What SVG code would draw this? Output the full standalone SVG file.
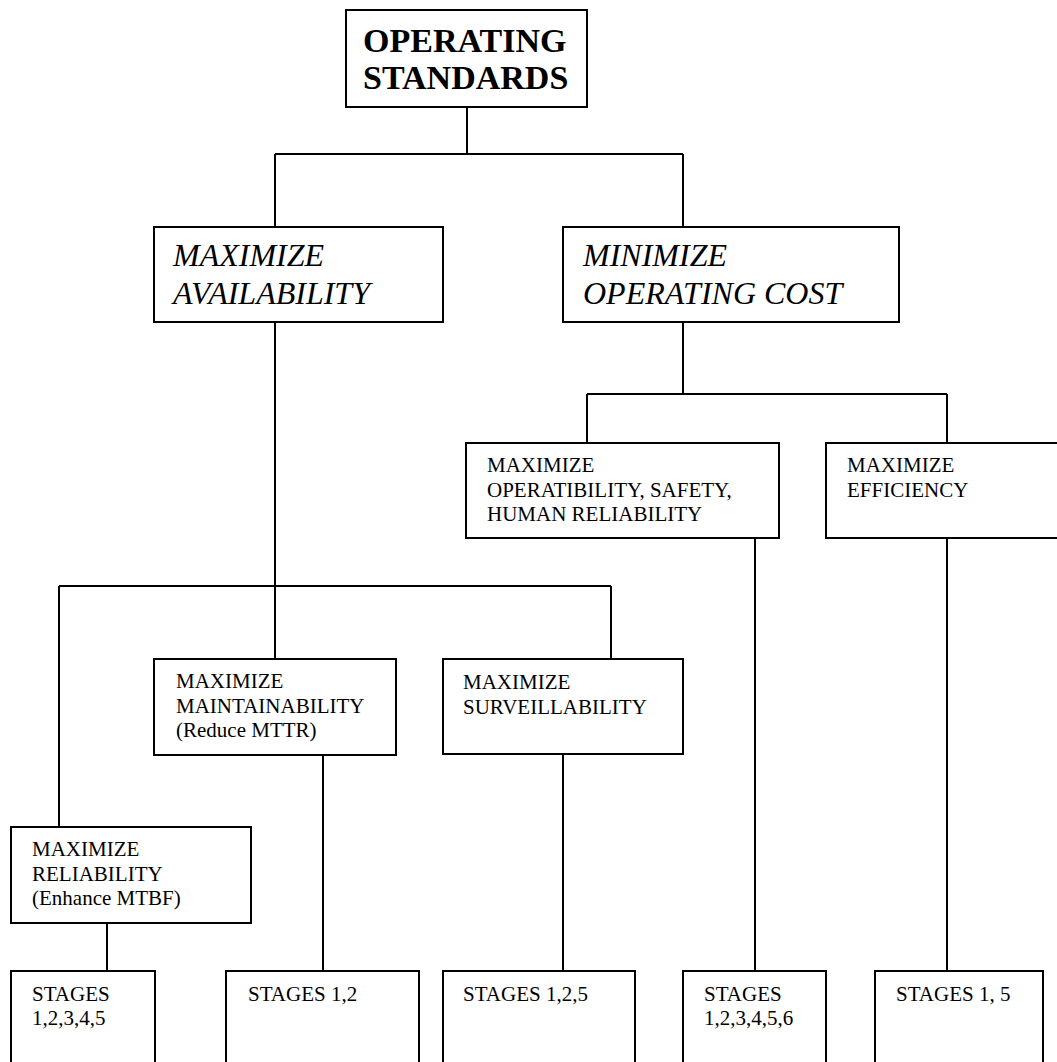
<svg xmlns="http://www.w3.org/2000/svg" width="1057" height="1062" viewBox="0 0 1057 1062">
<style>
.box{fill:#fff;stroke:#000;stroke-width:2}
.ln{fill:none;stroke:#000;stroke-width:2}
text{font-family:"Liberation Serif","Times New Roman",serif;fill:#000}
.b{font-size:34px;font-weight:bold}
.i{font-size:32px;font-style:italic}
.r{font-size:21px}
</style>
<rect width="1057" height="1062" fill="#fff"/>
<g id="connectors">
<path class="ln" d="M467 107V154M275 154H683M275 154V227M683 154V227"/>
<path class="ln" d="M275 322V659M59 586H611M59 586V827M611 586V659"/>
<path class="ln" d="M683 322V394M587 394H947M587 394V443M947 394V443"/>
<path class="ln" d="M107 923V971M323 755V971M563 754V971M755 538V971M947 538V971"/>
</g>
<g id="n-operating-standards">
<rect class="box" x="346" y="10" width="241" height="97"/>
<text class="b" x="363" y="52">OPERATING</text>
<text class="b" x="363" y="89">STANDARDS</text>
</g>
<g id="n-max-availability">
<rect class="box" x="154" y="227" width="289" height="95"/>
<text class="i" x="173" y="266">MAXIMIZE</text>
<text class="i" x="173" y="304">AVAILABILITY</text>
</g>
<g id="n-min-cost">
<rect class="box" x="563" y="227" width="336" height="95"/>
<text class="i" x="583" y="266">MINIMIZE</text>
<text class="i" x="583" y="304">OPERATING COST</text>
</g>
<g id="n-operability">
<rect class="box" x="466" y="443" width="313" height="95"/>
<text class="r" x="487" y="472">MAXIMIZE</text>
<text class="r" x="487" y="497">OPERATIBILITY, SAFETY,</text>
<text class="r" x="487" y="521">HUMAN RELIABILITY</text>
</g>
<g id="n-efficiency">
<rect class="box" x="826" y="443" width="250" height="95"/>
<text class="r" x="847" y="472">MAXIMIZE</text>
<text class="r" x="847" y="497">EFFICIENCY</text>
</g>
<g id="n-maintainability">
<rect class="box" x="154" y="659" width="242" height="96"/>
<text class="r" x="176" y="688">MAXIMIZE</text>
<text class="r" x="176" y="713">MAINTAINABILITY</text>
<text class="r" x="176" y="737">(Reduce MTTR)</text>
</g>
<g id="n-surveillability">
<rect class="box" x="443" y="659" width="240" height="95"/>
<text class="r" x="463" y="689">MAXIMIZE</text>
<text class="r" x="463" y="714">SURVEILLABILITY</text>
</g>
<g id="n-reliability">
<rect class="box" x="11" y="827" width="240" height="96"/>
<text class="r" x="32" y="856">MAXIMIZE</text>
<text class="r" x="32" y="881">RELIABILITY</text>
<text class="r" x="32" y="905">(Enhance MTBF)</text>
</g>
<g id="n-stages-12345">
<rect class="box" x="11" y="971" width="144" height="110"/>
<text class="r" x="32" y="1001">STAGES</text>
<text class="r" x="32" y="1025">1,2,3,4,5</text>
</g>
<g id="n-stages-12">
<rect class="box" x="226" y="971" width="193" height="110"/>
<text class="r" x="248" y="1001">STAGES 1,2</text>
</g>
<g id="n-stages-125">
<rect class="box" x="443" y="971" width="192" height="110"/>
<text class="r" x="463" y="1001">STAGES 1,2,5</text>
</g>
<g id="n-stages-123456">
<rect class="box" x="683" y="971" width="143" height="110"/>
<text class="r" x="704" y="1001">STAGES</text>
<text class="r" x="704" y="1025">1,2,3,4,5,6</text>
</g>
<g id="n-stages-15">
<rect class="box" x="875" y="971" width="168" height="110"/>
<text class="r" x="896" y="1001">STAGES 1, 5</text>
</g>
</svg>
